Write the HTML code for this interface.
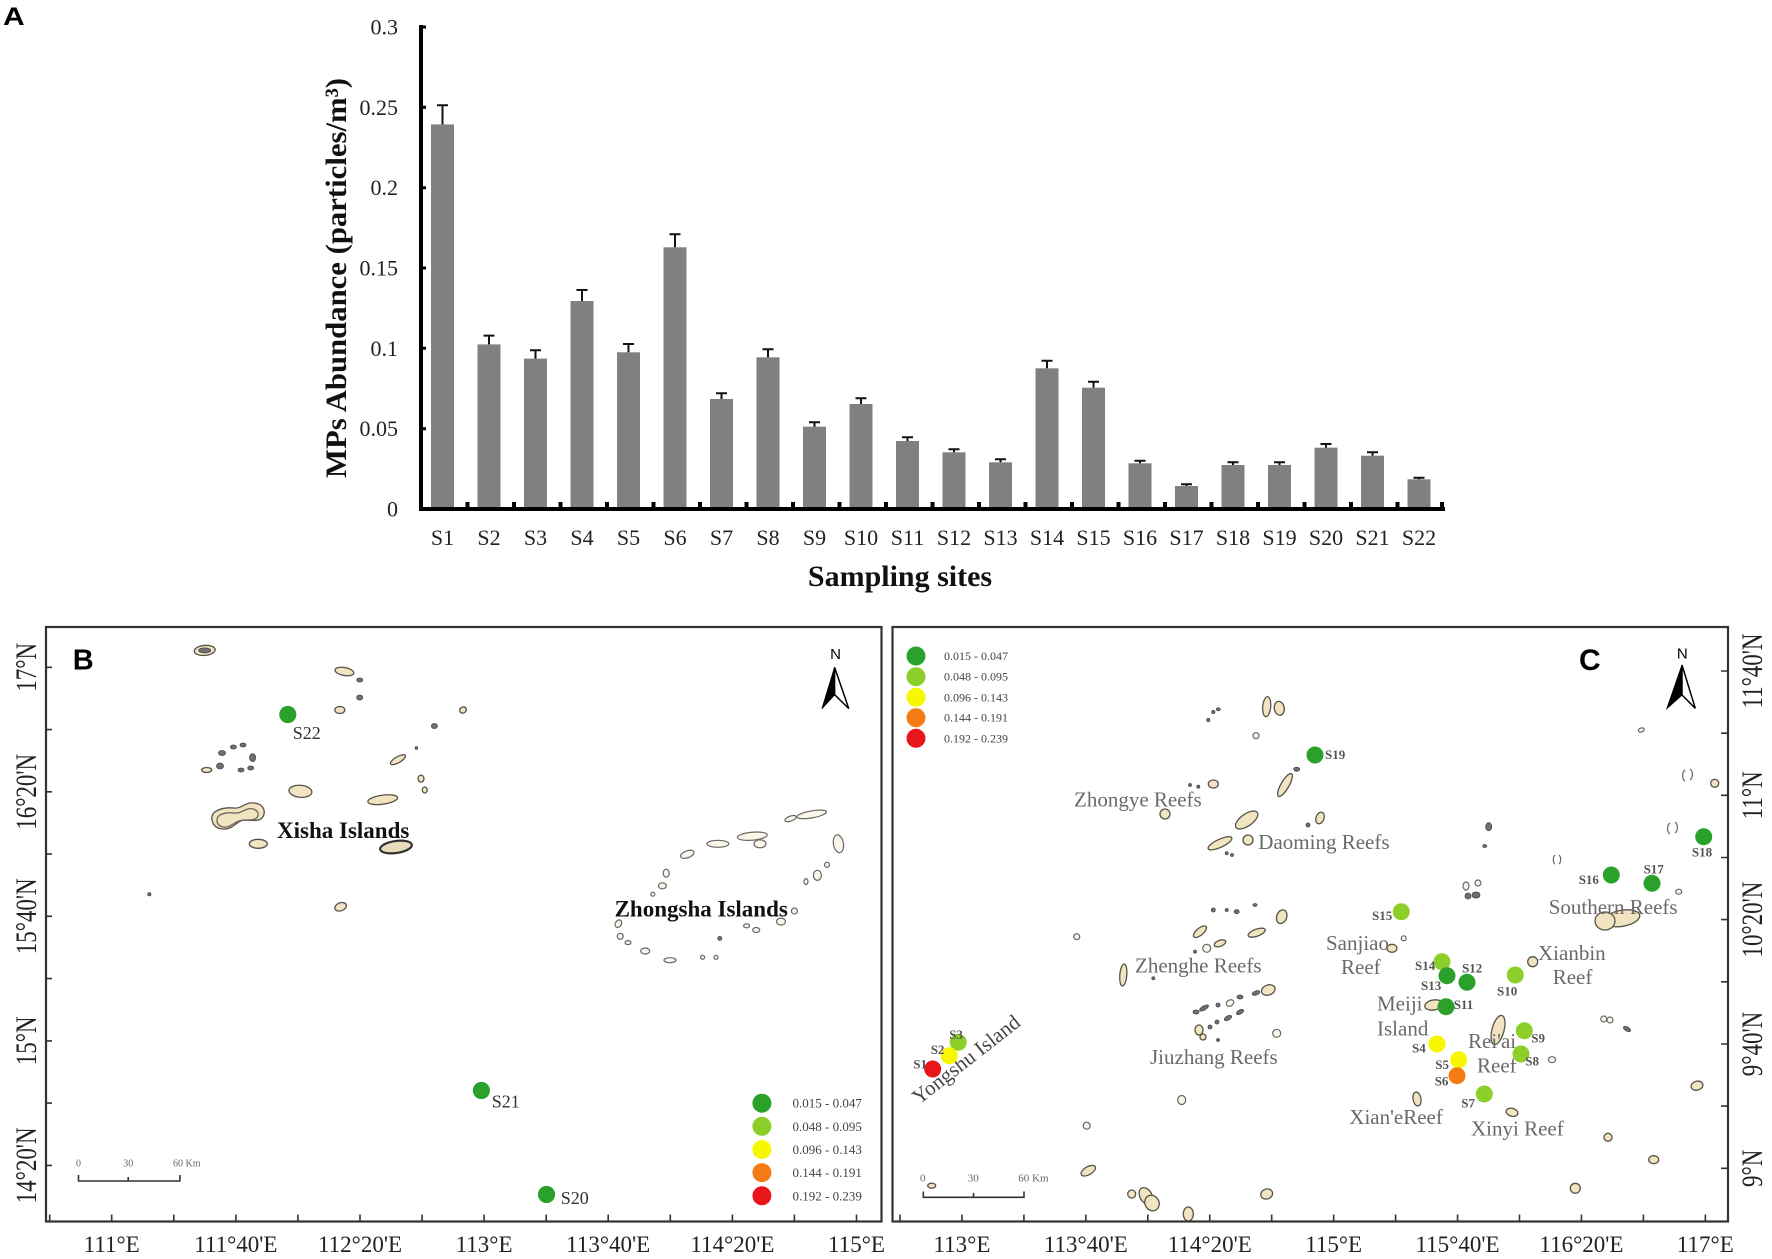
<!DOCTYPE html>
<html><head><meta charset="utf-8"><style>
html,body{margin:0;padding:0;background:#fff;}
svg{display:block;}
.t{fill:#f2e4c0;stroke:#55544a;stroke-width:1.3}
.d{fill:#707070;stroke:#444;stroke-width:0.8}
.z{fill:#fbf6ea;stroke:#666;stroke-width:1.2}
.ax{font-family:"Liberation Serif",serif;font-size:22px;fill:#222}
.mp{font-family:"Liberation Serif",serif;font-size:23px;fill:#222}
.lg{font-family:"Liberation Serif",serif;fill:#444}
.rf{font-family:"Liberation Serif",serif;font-size:21px;fill:#6a6a6a}
.sl{font-family:"Liberation Serif",serif;font-size:13px;font-weight:bold;fill:#555}
.pl{font-family:"Liberation Sans",sans-serif;font-weight:bold;fill:#000}
</style></head><body>
<svg width="1772" height="1259" viewBox="0 0 1772 1259" xmlns="http://www.w3.org/2000/svg">
<rect width="1772" height="1259" fill="#fff"/>
<!-- Panel A -->
<text class="pl" x="3" y="25" font-size="25" transform="translate(3,0) scale(1.2,1) translate(-3,0)">A</text>
<g fill="#808080">
<rect x="431" y="124.4" width="23" height="382.6"/>
<rect x="477.5" y="344.4" width="23" height="162.6"/>
<rect x="524" y="358.6" width="23" height="148.4"/>
<rect x="570.5" y="301" width="23" height="206"/>
<rect x="617" y="352.3" width="23" height="154.7"/>
<rect x="663.5" y="247.3" width="23" height="259.7"/>
<rect x="710" y="399" width="23" height="108"/>
<rect x="756.5" y="357.3" width="23" height="149.7"/>
<rect x="803" y="426.7" width="23" height="80.3"/>
<rect x="849.5" y="404" width="23" height="103"/>
<rect x="896" y="441" width="23" height="66"/>
<rect x="942.5" y="452.3" width="23" height="54.7"/>
<rect x="989" y="462.3" width="23" height="44.7"/>
<rect x="1035.5" y="368.3" width="23" height="138.7"/>
<rect x="1082" y="387.7" width="23" height="119.3"/>
<rect x="1128.5" y="463.3" width="23" height="43.7"/>
<rect x="1175" y="486" width="23" height="21"/>
<rect x="1221.5" y="465" width="23" height="42"/>
<rect x="1268" y="465" width="23" height="42"/>
<rect x="1314.5" y="447.7" width="23" height="59.3"/>
<rect x="1361" y="455.7" width="23" height="51.3"/>
<rect x="1407.5" y="479.3" width="23" height="27.7"/>
</g>
<g stroke="#111" stroke-width="2" fill="none">
<path d="M442.5 124.4V105.2M437 105.2h11"/>
<path d="M489 344.4V335.6M483.5 335.6h11"/>
<path d="M535.5 358.6V350.2M530 350.2h11"/>
<path d="M582 301V290M576.5 290h11"/>
<path d="M628.5 352.3V344M623 344h11"/>
<path d="M675 247.3V234.3M669.5 234.3h11"/>
<path d="M721.5 399V393.3M716 393.3h11"/>
<path d="M768 357.3V349.3M762.5 349.3h11"/>
<path d="M814.5 426.7V422.3M809 422.3h11"/>
<path d="M861 404V398.3M855.5 398.3h11"/>
<path d="M907.5 441V437.3M902 437.3h11"/>
<path d="M954 452.3V449.3M948.5 449.3h11"/>
<path d="M1000.5 462.3V459.3M995 459.3h11"/>
<path d="M1047 368.3V360.7M1041.5 360.7h11"/>
<path d="M1093.5 387.7V381.7M1088 381.7h11"/>
<path d="M1140 463.3V460.7M1134.5 460.7h11"/>
<path d="M1186.5 486V484.3M1181 484.3h11"/>
<path d="M1233 465V462.3M1227.5 462.3h11"/>
<path d="M1279.5 465V462.3M1274 462.3h11"/>
<path d="M1326 447.7V444M1320.5 444h11"/>
<path d="M1372.5 455.7V452.3M1367 452.3h11"/>
<path d="M1419 479.3V477.7M1413.5 477.7h11"/>
</g>
<!-- axes -->
<path d="M421 25V511" stroke="#000" stroke-width="4"/>
<path d="M419 509H1445" stroke="#000" stroke-width="4"/>
<g stroke="#000" stroke-width="3">
<path d="M421 27h5M421 107.3h5M421 187.7h5M421 268h5M421 348.3h5M421 428.7h5"/>
</g>
<g fill="#000">
<rect x="465.5" y="502" width="4" height="6"/><rect x="512" y="502" width="4" height="6"/><rect x="558.5" y="502" width="4" height="6"/><rect x="605" y="502" width="4" height="6"/><rect x="651.5" y="502" width="4" height="6"/><rect x="698" y="502" width="4" height="6"/><rect x="744.5" y="502" width="4" height="6"/><rect x="791" y="502" width="4" height="6"/><rect x="837.5" y="502" width="4" height="6"/><rect x="884" y="502" width="4" height="6"/><rect x="930.5" y="502" width="4" height="6"/><rect x="977" y="502" width="4" height="6"/><rect x="1023.5" y="502" width="4" height="6"/><rect x="1070" y="502" width="4" height="6"/><rect x="1116.5" y="502" width="4" height="6"/><rect x="1163" y="502" width="4" height="6"/><rect x="1209.5" y="502" width="4" height="6"/><rect x="1256" y="502" width="4" height="6"/><rect x="1302.5" y="502" width="4" height="6"/><rect x="1349" y="502" width="4" height="6"/><rect x="1395.5" y="502" width="4" height="6"/><rect x="1440" y="502" width="4" height="6"/>
</g>
<g class="ax" text-anchor="end">
<text x="398" y="34.5">0.3</text>
<text x="398" y="114.8">0.25</text>
<text x="398" y="195.2">0.2</text>
<text x="398" y="275.5">0.15</text>
<text x="398" y="355.8">0.1</text>
<text x="398" y="436.2">0.05</text>
<text x="398" y="516.5">0</text>
</g>
<g class="ax" text-anchor="middle">
<text x="442.5" y="545">S1</text><text x="489" y="545">S2</text><text x="535.5" y="545">S3</text><text x="582" y="545">S4</text><text x="628.5" y="545">S5</text><text x="675" y="545">S6</text><text x="721.5" y="545">S7</text><text x="768" y="545">S8</text><text x="814.5" y="545">S9</text><text x="861" y="545">S10</text><text x="907.5" y="545">S11</text><text x="954" y="545">S12</text><text x="1000.5" y="545">S13</text><text x="1047" y="545">S14</text><text x="1093.5" y="545">S15</text><text x="1140" y="545">S16</text><text x="1186.5" y="545">S17</text><text x="1233" y="545">S18</text><text x="1279.5" y="545">S19</text><text x="1326" y="545">S20</text><text x="1372.5" y="545">S21</text><text x="1419" y="545">S22</text>
</g>
<text transform="translate(346,278) rotate(-90)" text-anchor="middle" font-family="Liberation Serif,serif" font-weight="bold" font-size="30" fill="#111" textLength="400" lengthAdjust="spacingAndGlyphs">MPs Abundance (particles/m³)</text>
<text x="900" y="586" text-anchor="middle" font-family="Liberation Serif,serif" font-weight="bold" font-size="30" fill="#111">Sampling sites</text>

<!-- Panel B -->
<g>
<!-- islands -->
<ellipse class="t" cx="204.7" cy="650.4" rx="10.5" ry="5" transform="rotate(-5 204.7 650.4)"/>
<ellipse class="d" cx="204.7" cy="650.4" rx="6" ry="2.5" fill="#bbb"/>
<ellipse class="t" cx="344.4" cy="671.5" rx="9.5" ry="4" transform="rotate(10 344.4 671.5)"/>
<ellipse class="d" cx="359.7" cy="680" rx="3" ry="2"/>
<ellipse class="d" cx="359.7" cy="697.5" rx="3" ry="2.5"/>
<ellipse class="t" cx="339.8" cy="710" rx="5" ry="3.5"/>
<ellipse class="t" cx="463" cy="710" rx="3.5" ry="3" transform="rotate(-30 463 710)"/>
<ellipse class="d" cx="434.4" cy="726" rx="3" ry="2.5"/>
<circle class="d" cx="416.4" cy="748" r="1.3"/>
<ellipse class="d" cx="222" cy="753" rx="3.5" ry="2.5"/>
<ellipse class="d" cx="233.4" cy="747" rx="3" ry="2"/>
<ellipse class="d" cx="243" cy="745" rx="3" ry="2"/>
<ellipse class="d" cx="252.6" cy="757.6" rx="3" ry="4"/>
<ellipse class="d" cx="250.7" cy="768" rx="3" ry="2"/>
<ellipse class="d" cx="241" cy="770" rx="3" ry="2"/>
<ellipse class="d" cx="220" cy="766" rx="3.5" ry="3"/>
<ellipse class="t" cx="206.7" cy="770" rx="5" ry="2.5"/>
<ellipse class="t" cx="398" cy="759.7" rx="8.5" ry="3" transform="rotate(-30 398 759.7)"/>
<ellipse class="t" cx="421" cy="778.6" rx="3" ry="3.5"/>
<ellipse class="t" cx="424.8" cy="790" rx="2.5" ry="3"/>
<ellipse class="t" cx="300.4" cy="791.3" rx="11.5" ry="6" transform="rotate(5 300.4 791.3)"/>
<ellipse class="t" cx="382.7" cy="799.7" rx="15" ry="4.5" transform="rotate(-8 382.7 799.7)"/>
<path class="t" d="M212 820c-2-9 10-13 22-12c8 1 10-6 20-5c11 1 12 10 8 15c-4 4-12 2-18 2c-8 1-10 9-20 9c-8 0-11-4-12-9z"/>
<path d="M217 820c0-6 9-8 17-7c9 1 11-6 19-4c7 2 6 8 2 10c-5 2-11 0-16 2c-6 2-9 7-16 6c-5-1-6-4-6-7z" fill="none" stroke="#6a6660" stroke-width="1.3"/>
<ellipse class="t" cx="258.3" cy="843.8" rx="9" ry="4.5"/>
<ellipse cx="396" cy="847" rx="16" ry="6" transform="rotate(-8 396 847)" fill="#e9dcba" stroke="#333" stroke-width="2.2"/>
<circle class="d" cx="149.3" cy="894.2" r="1.6"/>
<ellipse class="t" cx="340.6" cy="906.8" rx="6" ry="4" transform="rotate(-20 340.6 906.8)"/>
<!-- Zhongsha -->
<ellipse class="z" cx="811.7" cy="814.4" rx="15" ry="3.5" transform="rotate(-10 811.7 814.4)"/>
<ellipse class="z" cx="790.6" cy="818.6" rx="6" ry="2.5" transform="rotate(-20 790.6 818.6)"/>
<ellipse class="z" cx="752.3" cy="836.2" rx="15" ry="4" transform="rotate(-5 752.3 836.2)"/>
<ellipse class="z" cx="760" cy="843.8" rx="6" ry="4"/>
<ellipse class="z" cx="717.9" cy="843.8" rx="11" ry="3.5"/>
<ellipse class="z" cx="687.3" cy="854.3" rx="7" ry="3.5" transform="rotate(-20 687.3 854.3)"/>
<ellipse class="z" cx="838.4" cy="843.8" rx="5" ry="9" transform="rotate(-10 838.4 843.8)"/>
<ellipse class="z" cx="827" cy="864.8" rx="2.5" ry="2.5"/>
<ellipse class="z" cx="817.4" cy="875.3" rx="4" ry="5"/>
<ellipse class="z" cx="806" cy="881.6" rx="2" ry="3"/>
<ellipse class="z" cx="666.2" cy="873.2" rx="3" ry="4"/>
<ellipse class="z" cx="662.4" cy="885.8" rx="4" ry="3"/>
<ellipse class="z" cx="652.8" cy="894.2" rx="2" ry="2"/>
<ellipse class="z" cx="794.4" cy="911" rx="3" ry="3"/>
<ellipse class="z" cx="781" cy="921.6" rx="4.5" ry="3.5"/>
<ellipse class="z" cx="756.2" cy="930" rx="3.5" ry="2.5"/>
<ellipse class="z" cx="746.6" cy="925.8" rx="3" ry="2"/>
<ellipse class="z" cx="618.4" cy="923.7" rx="3" ry="4" transform="rotate(30 618.4 923.7)"/>
<ellipse class="z" cx="620.3" cy="936.3" rx="3" ry="3"/>
<ellipse class="z" cx="628" cy="942.6" rx="3" ry="2"/>
<ellipse class="z" cx="645.2" cy="951" rx="4.5" ry="3"/>
<ellipse class="z" cx="670" cy="960.2" rx="6" ry="2.5"/>
<ellipse class="z" cx="702.6" cy="957.3" rx="2" ry="2"/>
<ellipse class="z" cx="716" cy="957.3" rx="2" ry="2"/>
<circle class="d" cx="719.8" cy="938.4" r="2"/>
<!-- labels -->
<text x="277" y="838" font-family="Liberation Serif,serif" font-weight="bold" font-size="23" fill="#111">Xisha Islands</text>
<text x="614.6" y="916.6" font-family="Liberation Serif,serif" font-weight="bold" font-size="23" fill="#111">Zhongsha Islands</text>
<!-- sites -->
<circle cx="287.8" cy="714.5" r="8.6" fill="#2aa12a"/>
<circle cx="481.4" cy="1090.5" r="8.6" fill="#2aa12a"/>
<circle cx="546.5" cy="1194.5" r="8.6" fill="#2aa12a"/>
<g font-family="Liberation Serif,serif" font-size="18" fill="#333">
<text x="292.8" y="739">S22</text>
<text x="491.8" y="1107.4">S21</text>
<text x="560.7" y="1204.2">S20</text>
</g>
<!-- legend -->
<circle cx="761.9" cy="1103.2" r="9.5" fill="#2aa12a"/>
<circle cx="761.9" cy="1126.3" r="9.5" fill="#8ccf2a"/>
<circle cx="761.9" cy="1149.5" r="9.5" fill="#f7f700"/>
<circle cx="761.9" cy="1172.6" r="9.5" fill="#f57c14"/>
<circle cx="761.9" cy="1195.8" r="9.5" fill="#e8151b"/>
<g class="lg" font-size="13">
<text x="792.5" y="1107.7">0.015 - 0.047</text>
<text x="792.5" y="1130.8">0.048 - 0.095</text>
<text x="792.5" y="1154">0.096 - 0.143</text>
<text x="792.5" y="1177.1">0.144 - 0.191</text>
<text x="792.5" y="1200.3">0.192 - 0.239</text>
</g>
<!-- north arrow -->
<text x="835.6" y="659" text-anchor="middle" font-family="Liberation Sans,sans-serif" font-size="15" fill="#000">N</text>
<path d="M834.6 667.4L822 708.6L834.6 694.7Z" fill="#000" stroke="#000" stroke-width="1"/>
<path d="M834.6 667.4L848.8 708.6L834.6 694.7Z" fill="#fff" stroke="#000" stroke-width="1.5"/>
<!-- scale bar -->
<path d="M78.5 1175V1181H179.9V1175M128.2 1181V1177" fill="none" stroke="#333" stroke-width="1.6"/>
<g font-family="Liberation Serif,serif" font-size="10" fill="#666">
<text x="78.5" y="1166.3" text-anchor="middle">0</text>
<text x="128.2" y="1166.3" text-anchor="middle">30</text>
<text x="173" y="1166.3">60 Km</text>
</g>
<text class="pl" x="72.7" y="669.5" font-size="29">B</text>
<!-- frame -->
<rect x="46" y="627" width="835.5" height="594.5" fill="none" stroke="#333" stroke-width="2.2"/>
<g stroke="#333" stroke-width="1.6">
<path d="M46 667.3h6M46 729.6h6M46 791.8h6M46 854.1h6M46 916.3h6M46 978.6h6M46 1040.9h6M46 1103.1h6M46 1165.4h6"/>
<path d="M49.7 1221.5v-7M111.7 1221.5v-7M173.8 1221.5v-7M235.9 1221.5v-7M297.9 1221.5v-7M360 1221.5v-7M422.1 1221.5v-7M484.1 1221.5v-7M546.2 1221.5v-7M608.2 1221.5v-7M670.3 1221.5v-7M732.4 1221.5v-7M794.4 1221.5v-7M856.5 1221.5v-7"/>
</g>
<g class="mp" text-anchor="middle">
<text x="111.7" y="1252">111°E</text>
<text x="235.9" y="1252">111°40'E</text>
<text x="360" y="1252">112°20'E</text>
<text x="484.1" y="1252">113°E</text>
<text x="608.2" y="1252">113°40'E</text>
<text x="732.4" y="1252">114°20'E</text>
<text x="856.5" y="1252">115°E</text>
</g>
<g class="mp" text-anchor="middle">
<text transform="translate(36,667.3) rotate(-90) scale(1,1.3)">17°N</text>
<text transform="translate(36,791.8) rotate(-90) scale(1,1.3)">16°20'N</text>
<text transform="translate(36,916.3) rotate(-90) scale(1,1.3)">15°40'N</text>
<text transform="translate(36,1040.9) rotate(-90) scale(1,1.3)">15°N</text>
<text transform="translate(36,1165.4) rotate(-90) scale(1,1.3)">14°20'N</text>
</g>
</g>

<!-- Panel C -->
<g>
<circle class="d" cx="1208.3" cy="720" r="1.6"/>
<circle class="d" cx="1213.3" cy="712" r="1.6"/>
<ellipse class="d" cx="1218.3" cy="709.3" rx="2" ry="1.5"/>
<ellipse class="t" cx="1266.7" cy="706.7" rx="4" ry="10" transform="rotate(5 1266.7 706.7)"/>
<ellipse class="t" cx="1279.3" cy="708.3" rx="5" ry="7" transform="rotate(-10 1279.3 708.3)"/>
<ellipse class="z" cx="1256" cy="735.7" rx="3" ry="3"/>
<ellipse class="d" cx="1296.7" cy="769.3" rx="3" ry="2"/>
<ellipse class="t" cx="1285" cy="785" rx="4" ry="13" transform="rotate(30 1285 785)"/>
<ellipse class="t" cx="1213.3" cy="784" rx="5" ry="4" stroke="#333"/>
<circle class="d" cx="1190" cy="785" r="1.5"/>
<circle class="d" cx="1198.3" cy="786.7" r="1.5"/>
<ellipse class="t" cx="1165" cy="814" rx="5" ry="5" stroke="#333"/>
<ellipse class="t" cx="1246.7" cy="820" rx="13" ry="6" transform="rotate(-35 1246.7 820)"/>
<ellipse class="t" cx="1220" cy="843.3" rx="13" ry="4" transform="rotate(-25 1220 843.3)"/>
<ellipse class="t" cx="1248" cy="840" rx="5" ry="5" transform="rotate(30 1248 840)"/>
<circle class="d" cx="1226.7" cy="853.3" r="1.5"/>
<circle class="d" cx="1232" cy="855" r="1.5"/>
<ellipse class="t" cx="1320" cy="818" rx="4" ry="6" transform="rotate(20 1320 818)"/>
<circle class="d" cx="1308" cy="825" r="2"/>
<ellipse class="z" cx="1076.7" cy="936.7" rx="3" ry="3"/>
<circle class="d" cx="1213.3" cy="910" r="2"/>
<circle class="d" cx="1226.7" cy="910" r="1.5"/>
<ellipse class="d" cx="1236.7" cy="911.7" rx="2.5" ry="2"/>
<ellipse class="d" cx="1255" cy="905" rx="2" ry="1.5"/>
<ellipse class="t" cx="1281.7" cy="916.7" rx="5" ry="7" transform="rotate(20 1281.7 916.7)"/>
<ellipse class="t" cx="1200" cy="931.7" rx="8" ry="3.5" transform="rotate(-40 1200 931.7)"/>
<ellipse class="t" cx="1256.7" cy="932.7" rx="9" ry="3.5" transform="rotate(-20 1256.7 932.7)"/>
<ellipse class="t" cx="1220" cy="943.3" rx="6" ry="3" transform="rotate(-20 1220 943.3)"/>
<ellipse class="z" cx="1206.7" cy="948.3" rx="4" ry="4"/>
<circle class="d" cx="1195" cy="951.7" r="1.5"/>
<ellipse class="t" cx="1123.3" cy="975" rx="3.5" ry="11" transform="rotate(5 1123.3 975)"/>
<circle class="d" cx="1153.3" cy="978.3" r="1.5"/>
<ellipse class="t" cx="1268.3" cy="990" rx="7" ry="5" transform="rotate(-20 1268.3 990)"/>
<ellipse class="d" cx="1256" cy="993" rx="4" ry="2" transform="rotate(-20 1256 993)"/>
<ellipse class="d" cx="1240" cy="997" rx="3" ry="2"/>
<ellipse class="z" cx="1230" cy="1003" rx="4" ry="3" transform="rotate(-30 1230 1003)"/>
<ellipse class="d" cx="1218" cy="1005" rx="2" ry="2"/>
<ellipse class="d" cx="1204" cy="1008" rx="5" ry="2" transform="rotate(-30 1204 1008)"/>
<ellipse class="d" cx="1196" cy="1012" rx="3" ry="2"/>
<ellipse class="d" cx="1240" cy="1012" rx="4" ry="2" transform="rotate(-30 1240 1012)"/>
<ellipse class="d" cx="1228" cy="1018" rx="4" ry="2" transform="rotate(-30 1228 1018)"/>
<ellipse class="d" cx="1217" cy="1022" rx="2" ry="2"/>
<ellipse class="d" cx="1210" cy="1027" rx="2" ry="2"/>
<ellipse class="t" cx="1199" cy="1030" rx="4" ry="5"/>
<ellipse class="t" cx="1203" cy="1037" rx="3" ry="3"/>
<circle class="d" cx="1218" cy="1040" r="1.5"/>
<ellipse class="z" cx="1276.7" cy="1033.3" rx="4" ry="4"/>
<ellipse class="z" cx="1181.7" cy="1100" rx="4" ry="4.5"/>
<ellipse class="z" cx="1086.7" cy="1125.7" rx="3.5" ry="3.5"/>
<ellipse class="t" cx="1088.3" cy="1170.7" rx="8" ry="4" transform="rotate(-30 1088.3 1170.7)"/>
<ellipse class="t" cx="1131.7" cy="1194" rx="4" ry="4"/>
<ellipse class="t" cx="1146" cy="1196" rx="6" ry="9" transform="rotate(-30 1146 1196)"/>
<ellipse class="t" cx="1152" cy="1203" rx="7" ry="8" transform="rotate(-30 1152 1203)"/>
<ellipse class="t" cx="1188.3" cy="1214" rx="5" ry="7"/>
<ellipse class="t" cx="1266.7" cy="1194" rx="6" ry="5" transform="rotate(-20 1266.7 1194)" stroke="#333"/>
<ellipse class="t" cx="931.7" cy="1185.7" rx="4" ry="2.5"/>
<ellipse class="z" cx="1641.3" cy="730" rx="3" ry="2" transform="rotate(-20 1641.3 730)"/>
<path d="M1685 770a4 6 0 0 0 0 11M1690 769a4 6 0 0 1 0 11" fill="none" stroke="#666" stroke-width="1.2"/>
<ellipse class="t" cx="1714.7" cy="783.3" rx="4" ry="4"/>
<path d="M1670 823a4 6 0 0 0 0 11M1675 822a4 6 0 0 1 0 11" fill="none" stroke="#666" stroke-width="1.2"/>
<path d="M1555 855a3 5 0 0 0 0 9M1559 855a3 5 0 0 1 0 9" fill="none" stroke="#666" stroke-width="1.2"/>
<ellipse class="d" cx="1488.7" cy="826.7" rx="3" ry="4"/>
<ellipse class="d" cx="1484.7" cy="846" rx="2" ry="1.5"/>
<ellipse class="z" cx="1466" cy="886" rx="3" ry="4"/>
<ellipse class="z" cx="1478" cy="883" rx="3" ry="3"/>
<ellipse class="d" cx="1476" cy="895" rx="4" ry="3"/>
<ellipse class="d" cx="1468" cy="896" rx="3" ry="3"/>
<ellipse class="z" cx="1678.7" cy="891.7" rx="3" ry="2.5"/>
<ellipse class="t" cx="1622" cy="918.3" rx="18" ry="8" transform="rotate(-10 1622 918.3)"/>
<ellipse class="t" cx="1605" cy="921" rx="10" ry="9"/>
<ellipse class="t" cx="1392" cy="948.3" rx="5" ry="4" fill="#aaa"/>
<ellipse class="z" cx="1403.7" cy="938.3" rx="2.5" ry="2.5"/>
<ellipse class="t" cx="1532.7" cy="961.7" rx="5" ry="5"/>
<ellipse class="t" cx="1433.7" cy="1005" rx="9" ry="5" transform="rotate(-10 1433.7 1005)"/>
<ellipse class="t" cx="1498" cy="1030" rx="6" ry="15" transform="rotate(15 1498 1030)" fill="#d8cba8"/>
<ellipse class="z" cx="1603.7" cy="1019" rx="3" ry="3"/>
<ellipse class="z" cx="1610" cy="1020" rx="3" ry="3"/>
<ellipse class="d" cx="1627" cy="1029" rx="4" ry="2" transform="rotate(30 1627 1029)"/>
<ellipse class="z" cx="1552" cy="1059.7" rx="3.5" ry="3"/>
<ellipse class="t" cx="1697" cy="1085.7" rx="6" ry="4.5" transform="rotate(-15 1697 1085.7)"/>
<ellipse class="t" cx="1417" cy="1099" rx="4" ry="7" transform="rotate(-10 1417 1099)" fill="#bbb"/>
<ellipse class="t" cx="1512" cy="1112.3" rx="6" ry="4" transform="rotate(15 1512 1112.3)"/>
<ellipse class="t" cx="1608" cy="1137.3" rx="4" ry="4"/>
<ellipse class="t" cx="1653.7" cy="1159.7" rx="5" ry="4"/>
<ellipse class="t" cx="1575.3" cy="1188.3" rx="5" ry="5"/>
<!-- labels -->
<g class="rf">
<text x="1074" y="806.7">Zhongye Reefs</text>
<text x="1258.3" y="849">Daoming Reefs</text>
<text x="1135" y="972.5">Zhenghe Reefs</text>
<text x="1150" y="1064">Jiuzhang Reefs</text>
<text x="1548.7" y="914">Southern Reefs</text>
<text x="1326" y="950">Sanjiao</text>
<text x="1341" y="974">Reef</text>
<text x="1538" y="960">Xianbin</text>
<text x="1552.7" y="984">Reef</text>
<text x="1377" y="1010.5">Meiji</text>
<text x="1377" y="1035.5">Island</text>
<text x="1468" y="1048">Rei'ai</text>
<text x="1477" y="1072.3">Reef</text>
<text x="1349.3" y="1124">Xian'eReef</text>
<text x="1471" y="1135.7">Xinyi Reef</text>
</g>
<text transform="translate(919,1105) rotate(-38)" font-family="Liberation Serif,serif" font-size="21" fill="#444">Yongshu Island</text>
<!-- sites -->
<circle cx="1315" cy="755" r="8.5" fill="#2aa12a"/>
<circle cx="1703.7" cy="836.7" r="8.5" fill="#2aa12a"/>
<circle cx="1611.3" cy="875" r="8.5" fill="#2aa12a"/>
<circle cx="1652" cy="883.3" r="8.5" fill="#2aa12a"/>
<circle cx="1401.3" cy="911.7" r="8.5" fill="#8ccf2a"/>
<circle cx="1442" cy="961.7" r="8.5" fill="#8ccf2a"/>
<circle cx="1447" cy="975.7" r="8.5" fill="#2aa12a"/>
<circle cx="1467" cy="982.3" r="8.5" fill="#2aa12a"/>
<circle cx="1515.3" cy="975" r="8.5" fill="#8ccf2a"/>
<circle cx="1446" cy="1006.7" r="8.5" fill="#2aa12a"/>
<circle cx="1524.3" cy="1030.7" r="8.5" fill="#8ccf2a"/>
<circle cx="1521" cy="1054" r="8.5" fill="#8ccf2a"/>
<circle cx="1437" cy="1044" r="8.5" fill="#f7f700"/>
<circle cx="1458.7" cy="1059.7" r="8.5" fill="#f7f700"/>
<circle cx="1457" cy="1075.7" r="8.5" fill="#f57c14"/>
<circle cx="1484.3" cy="1094" r="8.5" fill="#8ccf2a"/>
<circle cx="958.3" cy="1042.3" r="8.5" fill="#8ccf2a"/>
<circle cx="949.3" cy="1055.7" r="8.5" fill="#f7f700"/>
<circle cx="932.7" cy="1069" r="8.5" fill="#e8151b"/>
<g class="sl">
<text x="1325" y="759">S19</text>
<text x="1702" y="856.7" text-anchor="middle">S18</text>
<text x="1578.7" y="884">S16</text>
<text x="1653.7" y="873.3" text-anchor="middle">S17</text>
<text x="1372" y="920">S15</text>
<text x="1415" y="970">S14</text>
<text x="1421" y="990">S13</text>
<text x="1462" y="972.7">S12</text>
<text x="1497" y="995.7">S10</text>
<text x="1453.7" y="1009">S11</text>
<text x="1531.3" y="1042.3">S9</text>
<text x="1412" y="1052.3">S4</text>
<text x="1435.3" y="1069">S5</text>
<text x="1434.7" y="1085.7">S6</text>
<text x="1525.3" y="1065.7">S8</text>
<text x="1461.3" y="1107.3">S7</text>
<text x="913.3" y="1068.3">S1</text>
<text x="930.7" y="1054">S2</text>
<text x="949.3" y="1039">S3</text>
</g>
<!-- legend -->
<circle cx="916" cy="656" r="9.5" fill="#2aa12a"/>
<circle cx="916" cy="676.7" r="9.5" fill="#8ccf2a"/>
<circle cx="916" cy="697.3" r="9.5" fill="#f7f700"/>
<circle cx="916" cy="717.7" r="9.5" fill="#f57c14"/>
<circle cx="916" cy="738.3" r="9.5" fill="#e8151b"/>
<g class="lg" font-size="12">
<text x="944" y="660">0.015 - 0.047</text>
<text x="944" y="680.7">0.048 - 0.095</text>
<text x="944" y="701.3">0.096 - 0.143</text>
<text x="944" y="721.7">0.144 - 0.191</text>
<text x="944" y="742.3">0.192 - 0.239</text>
</g>
<!-- north arrow -->
<text x="1682.3" y="658.3" text-anchor="middle" font-family="Liberation Sans,sans-serif" font-size="15" fill="#000">N</text>
<path d="M1682 665L1667 708.3L1682 695Z" fill="#000" stroke="#000" stroke-width="1"/>
<path d="M1682 665L1695.3 708.3L1682 695Z" fill="#fff" stroke="#000" stroke-width="1.5"/>
<!-- scale bar -->
<path d="M923.3 1191.5V1197.3H1024V1191.5M973.5 1197.3V1193" fill="none" stroke="#333" stroke-width="1.6"/>
<g font-family="Liberation Serif,serif" font-size="11" fill="#666">
<text x="922.7" y="1181.7" text-anchor="middle">0</text>
<text x="973.3" y="1181.7" text-anchor="middle">30</text>
<text x="1018.3" y="1181.7">60 Km</text>
</g>
<text class="pl" x="1579" y="670" font-size="30">C</text>
<!-- frame -->
<rect x="892.5" y="627" width="835.5" height="594.5" fill="none" stroke="#333" stroke-width="2.2"/>
<g stroke="#333" stroke-width="1.6">
<path d="M900 1221.5v-7M961.95 1221.5v-7M1023.9 1221.5v-7M1085.85 1221.5v-7M1147.8 1221.5v-7M1209.75 1221.5v-7M1271.7 1221.5v-7M1333.65 1221.5v-7M1395.6 1221.5v-7M1457.55 1221.5v-7M1519.5 1221.5v-7M1581.45 1221.5v-7M1643.4 1221.5v-7M1705.35 1221.5v-7"/>
<path d="M1728 671h-7M1728 733.2h-7M1728 795.3h-7M1728 857.5h-7M1728 919.6h-7M1728 981.8h-7M1728 1044h-7M1728 1106.1h-7M1728 1168.3h-7"/>
</g>
<g class="mp" text-anchor="middle">
<text x="961.95" y="1252">113°E</text>
<text x="1085.85" y="1252">113°40'E</text>
<text x="1209.75" y="1252">114°20'E</text>
<text x="1333.65" y="1252">115°E</text>
<text x="1457.55" y="1252">115°40'E</text>
<text x="1581.45" y="1252">116°20'E</text>
<text x="1705.35" y="1252">117°E</text>
</g>
<g class="mp" text-anchor="middle">
<text transform="translate(1762,671) rotate(-90) scale(1,1.3)">11°40'N</text>
<text transform="translate(1762,795.3) rotate(-90) scale(1,1.3)">11°N</text>
<text transform="translate(1762,919.6) rotate(-90) scale(1,1.3)">10°20'N</text>
<text transform="translate(1762,1044) rotate(-90) scale(1,1.3)">9°40'N</text>
<text transform="translate(1762,1168.3) rotate(-90) scale(1,1.3)">9°N</text>
</g>
</g>
</svg>
</body></html>
